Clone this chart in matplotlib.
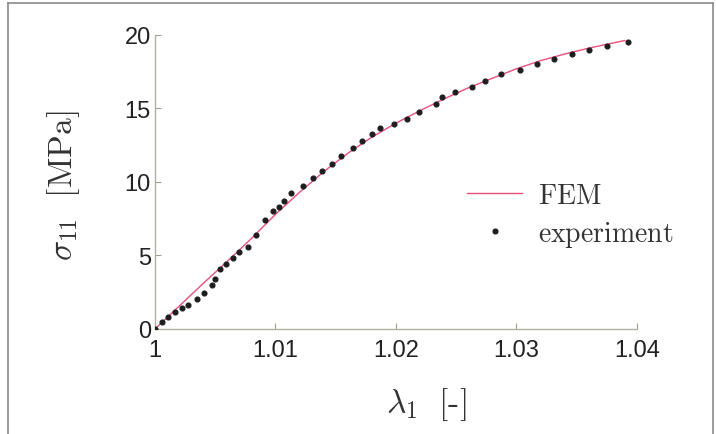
import matplotlib
matplotlib.use("Agg")
import matplotlib.pyplot as plt
from matplotlib.lines import Line2D

# FEM curve
fem_stretch = [1.0, 1.002, 1.004, 1.006, 1.008, 1.010, 1.012, 1.014, 1.016, 1.018,
               1.020, 1.022, 1.024, 1.026, 1.028, 1.030, 1.032, 1.034, 1.036, 1.038, 1.0390]
fem_stress = [0.0, 1.55, 3.1, 4.6, 6.15, 7.8, 9.3, 10.7, 11.95, 13.05,
              14.0, 14.85, 15.65, 16.4, 17.05, 17.7, 18.25, 18.7, 19.1, 19.45, 19.62]

# experiment points
exp_stretch = [1.0, 1.00055, 1.0011, 1.00165, 1.0022, 1.00275, 1.00345, 1.0041, 1.0047, 1.0050,
               1.0054, 1.0059, 1.0065, 1.0070, 1.0077, 1.0084, 1.0091, 1.0098, 1.0103, 1.0107,
               1.0113, 1.0123, 1.0131, 1.0139, 1.0147, 1.0154, 1.0164, 1.0172, 1.0180, 1.0187,
               1.0198, 1.0209, 1.0219, 1.0233, 1.0238, 1.0249, 1.0263, 1.0274, 1.0287, 1.0303,
               1.0317, 1.0331, 1.0346, 1.0360, 1.0375, 1.0393]
exp_stress = [0.0, 0.46, 0.80, 1.14, 1.41, 1.60, 2.05, 2.47, 2.97, 3.42,
              4.1, 4.45, 4.8, 5.25, 5.6, 6.4, 7.4, 8.0, 8.33, 8.7,
              9.25, 9.7, 10.27, 10.77, 11.19, 11.76, 12.33, 12.79, 13.24, 13.70,
              13.93, 14.27, 14.73, 15.3, 15.75, 16.1, 16.48, 16.9, 17.35, 17.6,
              18.03, 18.38, 18.68, 18.99, 19.22, 19.52]

x_ticks = [1.0, 1.01, 1.02, 1.03, 1.04]
x_tick_labels = ["1", "1.01", "1.02", "1.03", "1.04"]
y_ticks = [0, 5, 10, 15, 20]

plt.rcParams["mathtext.fontset"] = "cm"
plt.rcParams["font.family"] = "Liberation Sans"

fig = plt.figure(figsize=(7.16, 4.35), dpi=100)
ax = fig.add_axes([0.2165, 0.2414, 0.673, 0.676])

line_color = "#e8507a"
dot_color = "#1e1e1e"
ax.plot(fem_stretch, fem_stress, color=line_color, lw=1.0, zorder=2)
ax.plot(exp_stretch, exp_stress, ls="none", marker="o", ms=3.4, color=dot_color, zorder=3)

ax.set_xlim(1.0, 1.04)
ax.set_ylim(0, 20)
ax.set_xticks(x_ticks)
ax.set_xticklabels(x_tick_labels)
ax.set_yticks(y_ticks)
ax.tick_params(direction="in", length=4, width=0.8, color="#a0a090",
               labelsize=17, labelcolor="#222222")
ax.tick_params(axis="x", pad=7)
ax.tick_params(axis="y", pad=3)

for side in ["top", "right"]:
    ax.spines[side].set_visible(False)
for side in ["left", "bottom"]:
    ax.spines[side].set_color("#b0b0a0")
    ax.spines[side].set_linewidth(1.0)

ax.set_xlabel(r"$\lambda_1\ \ [\text{-}]$", fontsize=24, color="#333333")
ax.set_ylabel(r"$\sigma_{11}\ \ [\mathrm{MPa}]$", fontsize=24, color="#333333")
ax.xaxis.set_label_coords(0.562, -0.19)
ax.yaxis.set_label_coords(-0.151, 0.49)

handles = [Line2D([], [], color=line_color, lw=1.0),
           Line2D([], [], ls="none", marker="o", ms=3.4, color=dot_color)]
ax.legend(handles, [r"$\mathrm{FEM}$", r"$\mathrm{experiment}$"],
          loc="center left", bbox_to_anchor=(0.647, 0.384), frameon=False,
          borderpad=0, borderaxespad=0,
          fontsize=20, handlelength=2.0, handletextpad=0.55, labelspacing=0.35,
          labelcolor="#333333")

# thin grey frame around the picture, open at the bottom
frame_color = "#8a8a8a"
fig.add_artist(Line2D([0.011, 0.011], [0.0, 0.991], color=frame_color, lw=1.2,
                      transform=fig.transFigure))
fig.add_artist(Line2D([0.011, 0.996], [0.991, 0.991], color=frame_color, lw=1.2,
                      transform=fig.transFigure))
fig.add_artist(Line2D([0.996, 0.996], [0.0, 0.991], color=frame_color, lw=1.2,
                      transform=fig.transFigure))

fig.savefig("out.png", dpi=100)
